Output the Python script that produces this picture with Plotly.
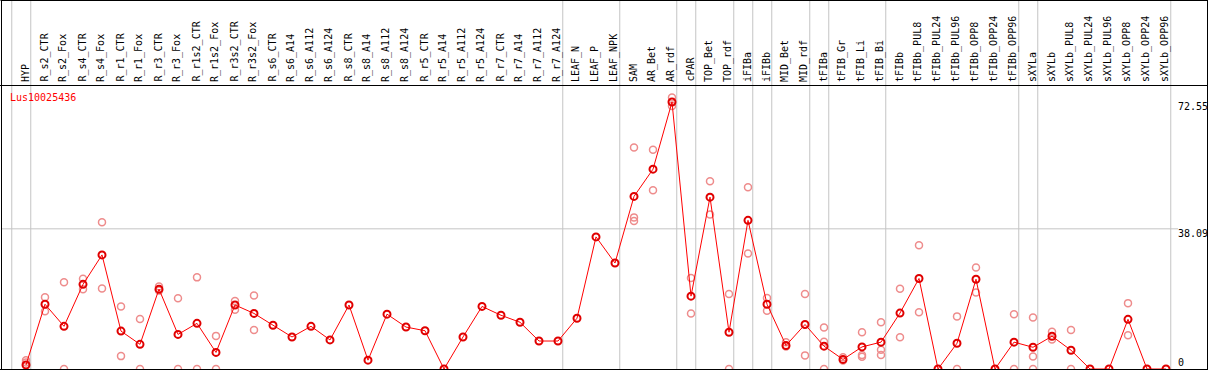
import plotly.graph_objects as go

W, H = 1209, 370

categories = [
    "HYP", "R_s2_CTR", "R_s2_Fox", "R_s4_CTR", "R_s4_Fox", "R_r1_CTR", "R_r1_Fox",
    "R_r3_CTR", "R_r3_Fox", "R_r1s2_CTR", "R_r1s2_Fox", "R_r3s2_CTR", "R_r3s2_Fox",
    "R_s6_CTR", "R_s6_A14", "R_s6_A112", "R_s6_A124", "R_s8_CTR", "R_s8_A14",
    "R_s8_A112", "R_s8_A124", "R_r5_CTR", "R_r5_A14", "R_r5_A112", "R_r5_A124",
    "R_r7_CTR", "R_r7_A14", "R_r7_A112", "R_r7_A124", "LEAF_N", "LEAF_P", "LEAF_NPK",
    "SAM", "AR_Bet", "AR_rdf", "cPAR", "TOP_Bet", "TOP_rdf", "iFIBa", "iFIBb",
    "MID_Bet", "MID_rdf", "tFIBa", "tFIB_Gr", "tFIB_Li", "tFIB_Bi", "tFIBb",
    "tFIBb_PUL8", "tFIBb_PUL24", "tFIBb_PUL96", "tFIBb_OPP8", "tFIBb_OPP24",
    "tFIBb_OPP96", "sXYLa", "sXYLb", "sXYLb_PUL8", "sXYLb_PUL24", "sXYLb_PUL96",
    "sXYLb_OPP8", "sXYLb_OPP24", "sXYLb_OPP96",
]

means = [
    1.1, 17.6, 11.6, 23.0, 31.0, 10.3, 6.7, 21.7, 9.4, 12.4, 4.5, 17.4, 15.1,
    11.9, 8.7, 11.6, 7.9, 17.4, 2.4, 14.9, 11.4, 10.4, 0.0, 8.7, 17.0,
    14.6, 12.7, 7.6, 7.6, 13.8, 35.9, 28.8,
    46.9, 54.3, 72.55, 19.8, 46.7, 10.0, 40.4, 17.6,
    6.4, 12.1, 6.2, 2.6, 6.0, 7.3, 15.2,
    24.6, 0.0, 7.0, 24.4, 0.0, 7.3,
    5.9, 8.9, 5.1, 0.0, 0.0, 13.5, 0.0, 0.0,
]

replicates = [
    [2.4, 1.8], [19.5, 15.7], [23.6, 0.0], [24.5, 21.7], [39.9, 21.9],
    [17.0, 3.5], [13.6, 0.0], [22.4, 21.3], [19.2, 0.0], [24.9, 0.0],
    [9.0, 0.0], [18.5, 16.1], [20.0, 10.6],
    [], [], [], [], [], [], [], [], [], [], [], [], [], [], [], [],
    [], [], [],
    [60.2, 41.2, 40.2], [59.6, 48.6], [73.8, 71.5], [24.7, 15.1], [51.0, 42.0],
    [20.4, 0.0], [49.4, 31.4], [19.3, 15.8],
    [7.3, 6.1], [20.4, 3.7], [11.3, 7.4, 0.0], [3.2, 2.3], [10.0, 3.8, 3.3],
    [12.7, 5.2, 3.8], [21.8, 8.6],
    [33.6, 15.4], [], [14.3, 0.0], [27.6, 20.8], [], [14.9, 0.0],
    [14.0, 3.4, 0.0], [10.1, 8.0], [10.6, 0.0], [], [], [17.9, 9.2], [], [],
]

# group separators: vertical line drawn just after these category indices
group_ends = [-1, 0, 28, 31, 34, 35, 37, 38, 39, 41, 42, 45, 52, 53, 60]

y_ticks = [0, 38.09, 72.55]
y_tick_text = ["0", "38.09", "72.55"]
gene = "Lus10025436"

# pixel mapping helpers
X0, DX = 26.0, 19.0          # pixel of first category, pixel step
Y0, DY = 369.0, 3.68         # pixel of value 0, pixels per unit
x_range = [-X0 / DX, (W - X0) / DX]
y_range = [-(H - Y0) / DY, Y0 / DY]


def px(p):
    return p / W


def py(p):
    return 1 - p / H


rx, ry = [], []
for i, reps in enumerate(replicates):
    for v in reps:
        rx.append(i)
        ry.append(v)

FONT = "DejaVu Sans Mono"
fig = go.Figure()
fig.add_trace(go.Scatter(
    x=rx, y=ry, mode="markers", cliponaxis=False,
    marker=dict(symbol="circle-open", size=7, color="rgb(238,140,140)",
                line=dict(width=1.5, color="rgb(238,140,140)")),
    hoverinfo="skip", showlegend=False,
))
fig.add_trace(go.Scatter(
    x=list(range(len(categories))), y=means, mode="lines+markers", cliponaxis=False,
    line=dict(color="#ff0000", width=1),
    marker=dict(symbol="circle-open", size=7, color="#e00000",
                line=dict(width=2, color="#e00000")),
    showlegend=False,
))

shapes = []
gray = "#c4c4c4"
for k in group_ends:
    shapes.append(dict(type="line", xref="x", yref="paper", x0=k + 0.25, x1=k + 0.25,
                       y0=py(369), y1=py(0), line=dict(color=gray, width=1), layer="below"))
shapes.append(dict(type="line", xref="paper", yref="y", x0=px(1), x1=px(1178),
                   y0=y_ticks[1], y1=y_ticks[1], line=dict(color=gray, width=1), layer="below"))
for (a, b, c, d) in [(0.5, 0.5, 1208, 0.5), (1.5, 0, 1.5, 370), (1207.5, 0, 1207.5, 370),
                     (0, 369.5, 1208, 369.5), (0, 85.5, 1208, 85.5)]:
    shapes.append(dict(type="line", xref="paper", yref="paper", x0=px(a), x1=px(c),
                       y0=py(b), y1=py(d), line=dict(color="black", width=1)))

annotations = []
for i, c in enumerate(categories):
    annotations.append(dict(x=i, y=py(83), xref="x", yref="paper", text=c, showarrow=False,
                            textangle=-90, xanchor="center", yanchor="bottom",
                            font=dict(family=FONT, size=10, color="black"),
                            borderpad=0, xshift=-1))
annotations.append(dict(x=px(9), y=py(97), xref="paper", yref="paper", text=gene,
                        showarrow=False, xanchor="left", yanchor="middle", borderpad=0,
                        font=dict(family=FONT, size=10, color="red")))
tick_centers = {0: 362, 38.09: 233, 72.55: 107}
for v, t in zip(y_ticks, y_tick_text):
    annotations.append(dict(x=px(1177), y=py(tick_centers[v]), xref="paper", yref="paper",
                            text=t, showarrow=False, xanchor="left", yanchor="middle",
                            borderpad=0, font=dict(family=FONT, size=10, color="black")))

fig.update_layout(
    width=W, height=H, margin=dict(l=0, r=0, t=0, b=0),
    paper_bgcolor="white", plot_bgcolor="white",
    xaxis=dict(range=x_range, visible=False, fixedrange=True),
    yaxis=dict(range=y_range, visible=False, fixedrange=True),
    shapes=shapes, annotations=annotations, showlegend=False,
)
fig.write_html("out.html", config={"displayModeBar": False},
               post_script="document.body.style.margin='0';document.body.style.overflow='hidden';")
